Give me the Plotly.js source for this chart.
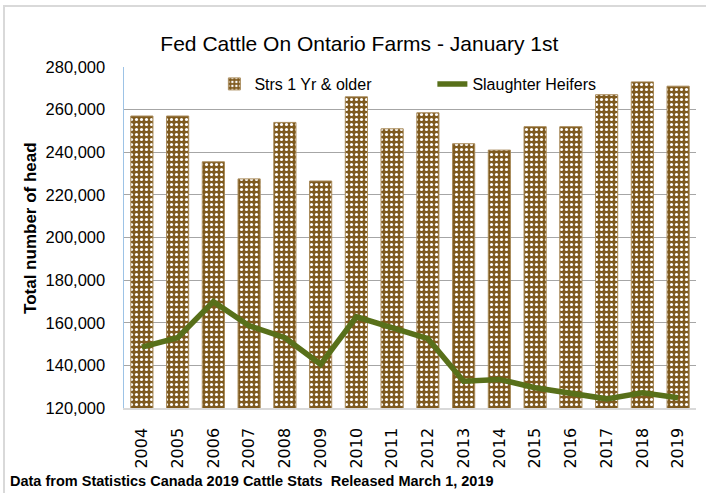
<!DOCTYPE html>
<html>
<head>
<meta charset="utf-8">
<script src="https://cdn.plot.ly/plotly-3.0.1.min.js"></script>
<style>
  html, body { margin: 0; padding: 0; background: #fff; }
  #wrap { position: relative; width: 706px; height: 493px; overflow: hidden; }
  #chart { position: absolute; left: 0; top: 0; width: 706px; height: 493px; }
  #frame { position: absolute; left: 3px; top: 5px; width: 720px; height: 520px;
           border-top: 2px solid #d9d9d9; border-left: 2px solid #d9d9d9; pointer-events: none; }
</style>
</head>
<body>
<div id="wrap">
  <div id="chart"></div>
  <div id="frame"></div>
</div>
<script>
// ---- data ----
const years = ["2004","2005","2006","2007","2008","2009","2010","2011","2012","2013","2014","2015","2016","2017","2018","2019"];
const steersOneYearOlder = [257000, 257000, 235500, 227500, 254000, 226500, 266000, 251000, 258500, 244000, 241000, 252000, 252000, 267000, 273000, 271000];
const slaughterHeifers = [148600, 153000, 169900, 158600, 153000, 140500, 162800, 157800, 152500, 132600, 133400, 129500, 126700, 124300, 127100, 124800];
const seriesNames = ["Strs 1 Yr & older", "Slaughter Heifers"];
const chartTitle = "Fed Cattle On Ontario Farms - January 1st";
const yTitle = "Total number of head";
const footnote = "Data from Statistics Canada 2019 Cattle Stats  Released March 1, 2019";

const sans = "'Liberation Sans', Arial, sans-serif";

const traces = [
  {
    type: "bar",
    name: seriesNames[0],
    x: years,
    y: steersOneYearOlder,
    marker: {
      color: "#7f5a1e",
      line: { color: "#a88a5a", width: 1 },
      pattern: { shape: ".", bgcolor: "#7f5a1e", fgcolor: "#ffffff", size: 5, solidity: 0.3, fillmode: "replace" }
    },
    hoverinfo: "x+y"
  },
  {
    type: "scatter",
    mode: "lines",
    name: seriesNames[1],
    x: years,
    y: slaughterHeifers,
    line: { color: "#58701a", width: 5.5 },
    hoverinfo: "x+y"
  }
];

const layout = {
  width: 706,
  height: 493,
  margin: { l: 124, r: 10, t: 67, b: 85, pad: 0 },
  paper_bgcolor: "#ffffff",
  plot_bgcolor: "#ffffff",
  bargap: 0.38,
  showlegend: true,
  title: {
    text: chartTitle,
    font: { family: sans, size: 21, color: "#000000" },
    xref: "container", x: 0.509, xanchor: "center",
    yref: "container", y: 0.911, yanchor: "middle"
  },
  legend: {
    orientation: "h",
    x: 0.158, xanchor: "left",
    y: 1.0, yanchor: "top",
    bgcolor: "rgba(0,0,0,0)",
    font: { family: sans, size: 16, color: "#000000" },
    entrywidth: 173, entrywidthmode: "pixels",
    traceorder: "normal"
  },
  xaxis: {
    type: "category",
    tickangle: -90,
    showgrid: false,
    showline: true,
    linecolor: "#d9d9d9",
    linewidth: 1.5,
    ticks: "",
    ticklabelstandoff: 12,
    tickfont: { family: "'DejaVu Sans', sans-serif", size: 16, color: "#000000" }
  },
  yaxis: {
    range: [120000, 280000],
    dtick: 20000,
    tick0: 120000,
    tickformat: ",d",
    showgrid: true,
    gridcolor: "#a6a6a6",
    gridwidth: 1,
    zeroline: false,
    showline: true,
    linecolor: "#9dc3e6",
    linewidth: 1.5,
    ticks: "",
    ticklabelstandoff: 14,
    tickfont: { family: sans, size: 16.5, color: "#000000" }
  },
  annotations: [
    {
      text: "<b>" + yTitle + "</b>",
      xref: "paper", yref: "paper",
      x: -0.1626, y: 0.528,
      xanchor: "center", yanchor: "middle",
      textangle: -90,
      showarrow: false,
      font: { family: sans, size: 17, color: "#000000" }
    },
    {
      text: "<b>" + footnote + "</b>",
      xref: "paper", yref: "paper",
      x: -0.2028, y: -0.214,
      xanchor: "left", yanchor: "middle",
      showarrow: false,
      font: { family: sans, size: 14.5, color: "#000000" }
    }
  ]
};

Plotly.newPlot("chart", traces, layout, { displayModeBar: false, staticPlot: true });
</script>
</body>
</html>
